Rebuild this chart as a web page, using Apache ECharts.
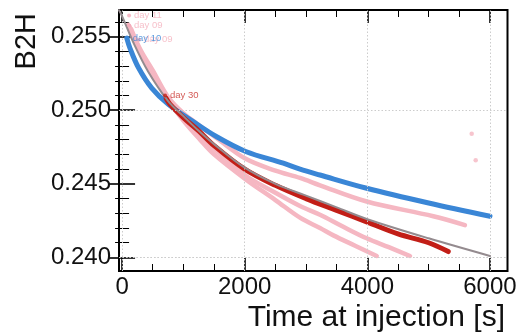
<!DOCTYPE html>
<html>
<head>
<meta charset="utf-8">
<script src="https://cdn.jsdelivr.net/npm/echarts@6/dist/echarts.min.js"></script>
<style>
html,body{margin:0;padding:0;background:#fff;}
#chart{width:522px;height:336px;}
</style>
</head>
<body>
<div id="chart"></div>
<script>
// ---- data ----
const xMin = -50, xMax = 6286;
const yMin = 0.23908, yMax = 0.25681;
const xMajorTicks = [0, 2000, 4000, 6000];
const xMinorTicks = [500, 1000, 1500, 2500, 3000, 3500, 4500, 5000, 5500];
const yMajorTicks = [0.240, 0.245, 0.250, 0.255];
const yMinorTicks = [0.241, 0.242, 0.243, 0.244, 0.246, 0.247, 0.248, 0.249, 0.251, 0.252, 0.253, 0.254, 0.256];

const pinkLow = [[100,0.2558],[300,0.2539],[500,0.2524],[750,0.2507],[1000,0.2493],[1272,0.2480],[1500,0.2470],[2017,0.2453],[2500,0.2439],[2902,0.2427],[3228,0.2420],[3446,0.2415],[3800,0.2408],[4153,0.2401]];
const pinkMid = [[120,0.2557],[300,0.2540],[500,0.2525],[750,0.2508],[1000,0.2496],[1272,0.2483],[1500,0.2474],[2000,0.2456],[2500,0.2444],[2902,0.2435],[3228,0.2429],[3600,0.2421],[3990,0.2413],[4350,0.2407],[4696,0.2401]];
const pinkUpper = [[150,0.2555],[300,0.2541],[500,0.2527],[750,0.2509],[1000,0.2498],[1250,0.2490],[1544,0.2481],[2017,0.2467],[2500,0.2459],[2902,0.2454],[3228,0.2449],[3990,0.2438],[5076,0.2428],[5592,0.2422]];
const pinkOutliers = [[5702,0.2484],[5767,0.2466]];
const blueDay10 = [[77,0.2549],[130,0.2542],[266,0.2529],[484,0.2515],[755,0.2504],[1136,0.2493],[1544,0.2482],[2017,0.2472],[2630,0.2464],[2902,0.2460],[3228,0.2456],[3990,0.2447],[5000,0.2437],[6000,0.2428]];
const redDay30 = [[720,0.2508],[783,0.2504],[1000,0.2495],[1250,0.2486],[1500,0.2476],[2000,0.2460],[2500,0.2449],[3000,0.2440],[3500,0.2432],[4000,0.2424],[4500,0.2416],[5000,0.2410],[5320,0.2404]];
const fitCurve = [[-50,0.2568],[0,0.2564],[184,0.2546],[429,0.2526],[755,0.2506],[1000,0.2496],[1250,0.2486],[1500,0.2477],[2000,0.2461],[2500,0.2450],[3000,0.2442],[3500,0.2434],[4000,0.2426],[5000,0.2413],[6000,0.2401]];

const labelNames = ['day 11', 'day 09', 'day 09', 'day 10', 'day 30'];
const labelPos = [[114,0.25644],[114,0.25576],[277,0.25479],[93,0.25490],[701,0.25101]];
const labelKinds = ['pink','pink','pink','blue','red'];

// ---- styles ----
const C = { pink:'#f5b7c2', blue:'#3a86d6', red:'#c21e17', gray:'#948b8f' };
const FONT = '"Liberation Sans", Arial, Helvetica, sans-serif';

const chart = echarts.init(document.getElementById('chart'), null, {renderer:'canvas'});

const gridRect = { left:119, right:14.5, top:10, bottom:65 };

function xAxisDef(grid, pos, ticks, len, width, labels) {
  return {
    type:'value', gridIndex:grid, position:pos, min:xMin, max:xMax,
    axisLine:{show:false},
    axisTick:{show:true, inside:true, length:len, customValues:ticks, lineStyle:{color:'#000', width:width}},
    axisLabel:{show:labels, customValues:ticks, fontSize:24, fontFamily:FONT, color:'#111', margin:4,
               formatter: v => String(Math.round(v))},
    splitLine:{show:false},
    minorTick:{show:false}
  };
}
function yAxisDef(grid, pos, ticks, len, width, labels) {
  return {
    type:'value', gridIndex:grid, position:pos, min:yMin, max:yMax,
    axisLine:{show:false},
    axisTick:{show:true, inside:true, length:len, customValues:ticks, lineStyle:{color:'#000', width:width}},
    axisLabel:{show:labels, customValues:ticks, fontSize:24, fontFamily:FONT, color:'#111', margin:8,
               formatter: v => v.toFixed(3)},
    splitLine:{show:false},
    minorTick:{show:false}
  };
}

function lineSeries(data, color, width, z) {
  return {
    type:'line', xAxisIndex:0, yAxisIndex:0, data:data, smooth:0.35, symbol:'none',
    lineStyle:{color:color, width:width, cap:'round', join:'round'}, z:z, silent:true, animation:false
  };
}

const gridLineData = xMajorTicks.map(v => ({xAxis:v})).concat(yMajorTicks.map(v => ({yAxis:v})));

const option = {
  animation:false,
  backgroundColor:'#fff',
  grid:[
    Object.assign({show:true, borderColor:'#000', borderWidth:2, backgroundColor:'transparent', outerBoundsMode:'none', containLabel:false}, gridRect),
    Object.assign({show:false, outerBoundsMode:'none', containLabel:false}, gridRect)
  ],
  xAxis:[
    xAxisDef(0,'bottom', xMajorTicks, 13, 1.6, true),
    xAxisDef(0,'top', xMajorTicks, 13, 1.6, false),
    xAxisDef(1,'bottom', xMinorTicks, 7, 1, false),
    xAxisDef(1,'top', xMinorTicks, 7, 1, false)
  ],
  yAxis:[
    yAxisDef(0,'left', yMajorTicks, 13, 1.6, true),
    yAxisDef(0,'right', yMajorTicks, 13, 1.6, false),
    yAxisDef(1,'left', yMinorTicks, 7, 1, false),
    yAxisDef(1,'right', yMinorTicks, 7, 1, false)
  ],
  series:[
    {type:'scatter', xAxisIndex:0, yAxisIndex:0, data:[], z:1, silent:true,
     markLine:{silent:true, symbol:['none','none'], label:{show:false}, animation:false,
               lineStyle:{type:[1.5,2], color:'#cccccc', width:1}, emphasis:{disabled:true},
               data:gridLineData}},
    lineSeries(pinkLow, C.pink, 4.5, 2),
    lineSeries(pinkMid, C.pink, 4.5, 2),
    lineSeries(pinkUpper, C.pink, 4.5, 2),
    {type:'scatter', xAxisIndex:0, yAxisIndex:0, data:pinkOutliers, symbolSize:4.5,
     itemStyle:{color:C.pink}, z:2, silent:true},
    lineSeries(blueDay10, C.blue, 5, 3),
    lineSeries(redDay30, C.red, 5, 4),
    lineSeries(fitCurve, C.gray, 2, 5),
    {type:'scatter', xAxisIndex:0, yAxisIndex:0, symbolSize:4, z:6, silent:true,
     data: labelNames.map((n,i) => ({
       name:n, value:labelPos[i],
       itemStyle:{color: labelKinds[i]==='pink' ? '#f2a9b8' : C[labelKinds[i]]},
       label:{color: labelKinds[i]==='pink' ? '#f4b0bd' : (labelKinds[i]==='red' ? '#c8302a' : C.blue)}
     })),
     label:{show:true, position:'right', distance:3, formatter:'{b}', fontSize:9.5, fontFamily:FONT}
    }
  ],
  graphic:[
    {type:'text', x:27, y:13, rotation:Math.PI/2,
     style:{text:'B2H', fontSize:29, fontFamily:FONT, fill:'#111', align:'right', verticalAlign:'middle'}},
    {type:'text', x:505, y:318,
     style:{text:'Time at injection [s]', fontSize:30, fontFamily:FONT, fill:'#111', align:'right', verticalAlign:'middle'}}
  ]
};
chart.setOption(option);
</script>
</body>
</html>
